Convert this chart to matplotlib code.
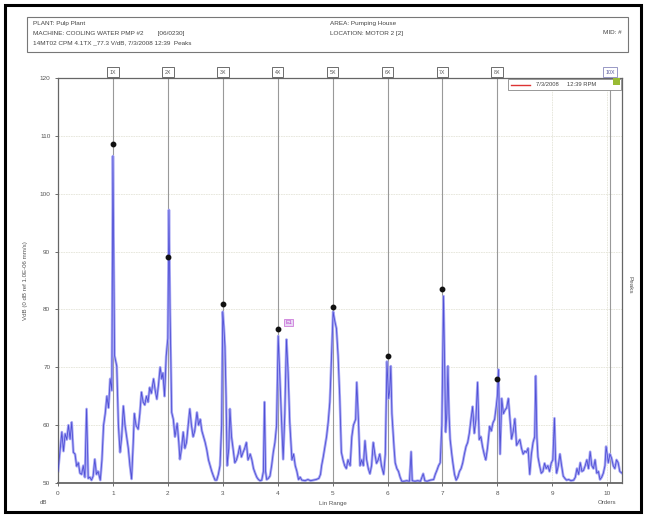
import matplotlib.pyplot as plt
from matplotlib.patches import Rectangle
from matplotlib.lines import Line2D

plt.rcParams['font.family'] = ['Liberation Sans', 'DejaVu Sans']

# spectrum (orders, dB)
orders = [0.00, 0.03, 0.07, 0.10, 0.13, 0.16, 0.19, 0.22, 0.25, 0.28, 0.31, 0.34, 0.37, 0.40, 0.43, 0.46, 0.49,
          0.52, 0.55, 0.58, 0.61, 0.64, 0.67, 0.70, 0.73, 0.77, 0.80, 0.83, 0.86, 0.89, 0.92, 0.95, 0.98,
          1.00, 1.03, 1.07, 1.10, 1.13, 1.16, 1.19, 1.22, 1.25, 1.28, 1.31, 1.34, 1.37, 1.39, 1.42, 1.46,
          1.49, 1.52, 1.55, 1.58, 1.61, 1.64, 1.67, 1.70, 1.74, 1.77, 1.80, 1.83, 1.86, 1.89, 1.91, 1.94,
          1.97, 2.00, 2.02, 2.04, 2.07, 2.10, 2.13, 2.17, 2.20, 2.22, 2.25, 2.28, 2.31, 2.34, 2.37, 2.40,
          2.43, 2.46, 2.49, 2.53, 2.56, 2.59, 2.62, 2.65, 2.68, 2.71, 2.74, 2.77, 2.80, 2.83, 2.86, 2.89,
          2.92, 2.95, 2.98, 3.00, 3.02, 3.04, 3.06, 3.08, 3.11, 3.13, 3.16, 3.19, 3.22, 3.25, 3.28, 3.31,
          3.34, 3.37, 3.40, 3.43, 3.46, 3.50, 3.53, 3.56, 3.59, 3.62, 3.65, 3.68, 3.71, 3.74, 3.76, 3.78,
          3.80, 3.83, 3.86, 3.89, 3.92, 3.95, 3.98, 4.01, 4.04, 4.07, 4.10, 4.13, 4.16, 4.19, 4.22, 4.26,
          4.29, 4.32, 4.35, 4.38, 4.41, 4.44, 4.50, 4.55, 4.60, 4.65, 4.70, 4.75, 4.78, 4.80, 4.83, 4.86,
          4.89, 4.92, 4.95, 4.97, 5.01, 5.04, 5.07, 5.10, 5.13, 5.16, 5.19, 5.22, 5.25, 5.28, 5.32, 5.35,
          5.38, 5.42, 5.44, 5.47, 5.50, 5.53, 5.56, 5.59, 5.62, 5.65, 5.68, 5.71, 5.74, 5.77, 5.80, 5.83,
          5.86, 5.89, 5.93, 5.96, 5.99, 6.02, 6.04, 6.06, 6.08, 6.10, 6.12, 6.14, 6.17, 6.20, 6.23, 6.26,
          6.30, 6.35, 6.40, 6.43, 6.45, 6.50, 6.55, 6.60, 6.65, 6.68, 6.72, 6.78, 6.84, 6.87, 6.90, 6.93,
          6.96, 6.99, 7.02, 7.04, 7.06, 7.08, 7.10, 7.12, 7.14, 7.17, 7.19, 7.22, 7.25, 7.28, 7.31, 7.34,
          7.37, 7.40, 7.43, 7.46, 7.49, 7.52, 7.55, 7.58, 7.61, 7.64, 7.67, 7.70, 7.73, 7.76, 7.79, 7.82,
          7.86, 7.89, 7.92, 7.95, 7.98, 8.00, 8.02, 8.04, 8.05, 8.08, 8.11, 8.14, 8.17, 8.20, 8.23, 8.26,
          8.29, 8.32, 8.35, 8.38, 8.41, 8.44, 8.47, 8.50, 8.53, 8.56, 8.59, 8.62, 8.65, 8.68, 8.70, 8.72,
          8.74, 8.77, 8.80, 8.83, 8.86, 8.89, 8.92, 8.95, 8.98, 9.01, 9.04, 9.06, 9.08, 9.11, 9.14, 9.17,
          9.20, 9.23, 9.26, 9.30, 9.34, 9.39, 9.42, 9.45, 9.48, 9.51, 9.54, 9.57, 9.60, 9.63, 9.66, 9.69,
          9.72, 9.75, 9.78, 9.81, 9.84, 9.87, 9.90, 9.93, 9.96, 9.98, 10.00, 10.02, 10.05, 10.08, 10.11,
          10.14, 10.17, 10.20, 10.23, 10.27]
level_db = [52, 55, 58.8, 55.5, 58.5, 57.5, 60, 57.6, 60.5, 55.3, 55, 52.9, 53.5, 51.7, 51.5, 53, 51,
            62.8, 50.8, 51, 50.5, 51.2, 54.1, 51.5, 52, 50.5, 54, 60, 62, 65, 63, 68, 66,
            106.5, 72, 70.2, 60, 55.3, 58, 63.3, 60, 58, 56, 53, 50.7, 57, 62, 60, 59.3,
            62, 65.7, 64, 63.5, 65, 64, 66.5, 65.5, 68, 66, 64.5, 67, 70, 68, 69, 65,
            71.9, 75, 97.2, 80, 62.2, 61, 58, 60.3, 57, 54.1, 56, 58.8, 56, 57, 60, 62.8,
            60, 58, 59, 62.2, 60, 61, 59, 58, 57, 55.7, 54, 53, 52, 51.2, 50.5, 50.5,
            51.5, 53, 60, 79.6, 77, 73.6, 65, 53, 56, 62.8, 58, 55.7, 53.5, 54, 55, 56.4,
            54.5, 55.3, 56, 57, 54, 55, 54, 52.5, 51.7, 51, 50.6, 50.4, 50.5, 52, 64, 52,
            50.6, 50.8, 51.2, 53, 55.3, 57, 59.9, 75.4, 68, 61, 54.1, 62, 74.8, 69.1, 60.5, 54,
            55, 53, 52, 50.6, 51, 50.5, 50.4, 50.6, 50.4, 50.5, 50.6, 50.8, 51.5, 53, 54.5, 56.3,
            58, 60.5, 64, 69, 79.6, 78, 76.7, 72, 65, 55.3, 54, 53, 52.5, 54, 53, 58,
            60, 61, 67.4, 61, 53, 54, 53, 57.3, 54, 52.5, 51.6, 53, 57, 55, 53.4, 54,
            55, 53, 51.5, 55, 71, 64.6, 66, 70.2, 62, 58.9, 56, 53.5, 52.5, 52, 51, 50.3,
            50.3, 50.4, 50.3, 55.4, 50.4, 50.3, 50.4, 50.3, 51.6, 50.4, 50.3, 50.5, 50.6, 51.5, 52.2, 53,
            53.5, 60, 82.3, 70, 58.8, 62, 70.2, 62, 57.6, 55, 53.5, 51.5, 50.5, 51, 52, 52.5,
            53.5, 55, 56.3, 57, 58.6, 61, 63.2, 58.6, 61, 67.4, 57.5, 58, 56.3, 55, 54, 56,
            59.8, 59, 60.4, 61, 63.2, 65, 69.6, 60, 55, 64.6, 62, 62.6, 63, 64.6, 61, 57.6,
            59, 61.1, 56.5, 57, 57.5, 56, 55, 55.5, 55.3, 56, 51.5, 55, 57, 58, 68.5, 58,
            54.5, 53, 51.7, 52, 53.4, 52.5, 53, 52, 53.4, 54, 61.2, 54, 51.7, 53, 55, 53,
            51.2, 50.8, 50.5, 50.6, 50.4, 50.5, 51, 52.5, 51.5, 53.5, 52, 52.2, 53, 54, 52.5, 55.4,
            53, 52.5, 54, 51.7, 52, 50.6, 51, 51.7, 53, 56.3, 55, 53.5, 55, 54.3, 53,
            52.5, 54, 53.5, 52, 51.7]

# peak markers
peak_orders = [1, 2, 3, 4, 5, 6, 7, 8]
peak_db = [108.6, 89.0, 81.0, 76.6, 80.4, 71.9, 83.6, 67.9]
harmonic_labels = ["1X", "2X", "3X", "4X", "5X", "6X", "7X", "8X"]
y_ticks = [50, 60, 70, 80, 90, 100, 110, 120]
x_ticks = [0, 1, 2, 3, 4, 5, 6, 7, 8, 9, 10]

fig = plt.figure(figsize=(6.46, 5.21), dpi=100)
W, H = 646.0, 521.0

def fx(px):
    return px / W

def fy(py):
    return 1 - py / H

# outer frame and header box
fig.patches.append(Rectangle((fx(5), fy(512)), fx(636), 507 / H, transform=fig.transFigure,
                             fill=False, lw=2.2, ec='black'))
fig.patches.append(Rectangle((fx(27), fy(52)), fx(601), 35 / H, transform=fig.transFigure,
                             fill=False, lw=0.8, ec='#777777'))
hdr = dict(fontsize=4.6, color='#444444', va='center')
fig.text(fx(33), fy(23), "PLANT: Pulp Plant", **hdr)
fig.text(fx(33), fy(33), "MACHINE: COOLING WATER PMP #2        [06/0230]", **hdr)
fig.text(fx(33), fy(43), "14MT02 CPM 4.1TX _77.3 V/dB, 7/3/2008 12:39  Peaks", **hdr)
fig.text(fx(330), fy(23), "AREA: Pumping House", **hdr)
fig.text(fx(330), fy(33), "LOCATION: MOTOR 2 [2]", **hdr)
fig.text(fx(622), fy(33), "MID: #", ha='right', **hdr)

ax = fig.add_axes([fx(58), fy(483), fx(622 - 58), (483 - 78) / H])
ax.set_xlim(0, 10.27)
ax.set_ylim(50, 120)

# grid
for y in y_ticks[1:-1]:
    ax.axhline(y, color='#e4e4d8', lw=0.6, ls=(0, (2, 1)), zorder=0)
for x in [9, 10]:
    ax.axvline(x, color='#e4e4d8', lw=0.6, ls=(0, (2, 1)), zorder=0)

# harmonic cursors with boxed labels sitting on the top of the axes
for o, lab in zip(peak_orders, harmonic_labels):
    ax.axvline(o, color='#999999', lw=0.8, zorder=1)
    ax.annotate(lab, xy=(o, 120), xytext=(0, 4.3), textcoords='offset points', ha='center', va='center',
                fontsize=3.8, color='#555555', annotation_clip=False,
                bbox=dict(boxstyle='square,pad=0.5', fc='white', ec='#555555', lw=0.6))
ax.axvline(10.05, color='#999999', lw=0.8, zorder=1)
ax.annotate("10X", xy=(10.05, 120), xytext=(0, 4.3), textcoords='offset points', ha='center', va='center',
            fontsize=3.8, color='#555599', annotation_clip=False,
            bbox=dict(boxstyle='square,pad=0.5', fc='white', ec='#8888bb', lw=0.6))

# spectrum
ax.plot(orders, level_db, color='#a8a8f4', lw=1.9, zorder=2)
ax.plot(orders, level_db, color='#4040d0', lw=0.6, alpha=0.85, zorder=3)
ax.plot(peak_orders, peak_db, 'o', color='#111111', ms=3.2, zorder=4)

# small magenta cursor label
ax.text(4.2, 77.8, "E1", fontsize=4, color='#bb44cc', ha='center', va='center',
        bbox=dict(boxstyle='square,pad=0.2', fc='#e8d8f4', ec='#bb44cc', lw=0.4))

ax.set_yticks(y_ticks)
ax.set_yticklabels([str(v) for v in y_ticks])
ax.set_xticks(x_ticks)
ax.set_xticklabels([str(v) for v in x_ticks])
ax.tick_params(labelsize=4.6, colors='#555555', length=2.5, width=0.6, pad=3)
for s in ax.spines.values():
    s.set_color('#666666')
    s.set_linewidth(0.9)
ax.spines['bottom'].set_linewidth(1.3)

ax.set_ylabel("VdB (0 dB ref 1.0E-06 mm/s)", fontsize=4.4, color='#555555', labelpad=8)
fig.text(fx(44), fy(503), "dB", fontsize=4.4, color='#555555', ha='center', va='center')
fig.text(fx(333), fy(503), "Lin Range", fontsize=4.4, color='#555555', ha='center', va='center')
fig.text(fx(607), fy(503), "Orders", fontsize=4.4, color='#555555', ha='center', va='center')
fig.text(fx(630), fy(285), "Peaks", fontsize=4.6, color='#555555', rotation=-90, ha='center', va='center')

# legend box at top right
lx0, lx1, ly0, ly1 = 508, 621, 79, 90
fig.patches.append(Rectangle((fx(lx0), fy(ly1)), fx(lx1 - lx0), (ly1 - ly0) / H, transform=fig.transFigure,
                             fc='white', ec='#888888', lw=0.6, zorder=5))
fig.lines.append(Line2D([fx(511), fx(530)], [fy(84.5), fy(84.5)], transform=fig.transFigure,
                        color='#dd3333', lw=1.0, zorder=6))
fig.text(fx(536), fy(84.5), "7/3/2008     12:39 RPM", fontsize=4.2, color='#444444', va='center', zorder=6)
fig.patches.append(Rectangle((fx(613), fy(85)), fx(7), 7 / H, transform=fig.transFigure,
                             fc='#99bb33', ec='none', zorder=6))

fig.savefig("out.png", dpi=100)
